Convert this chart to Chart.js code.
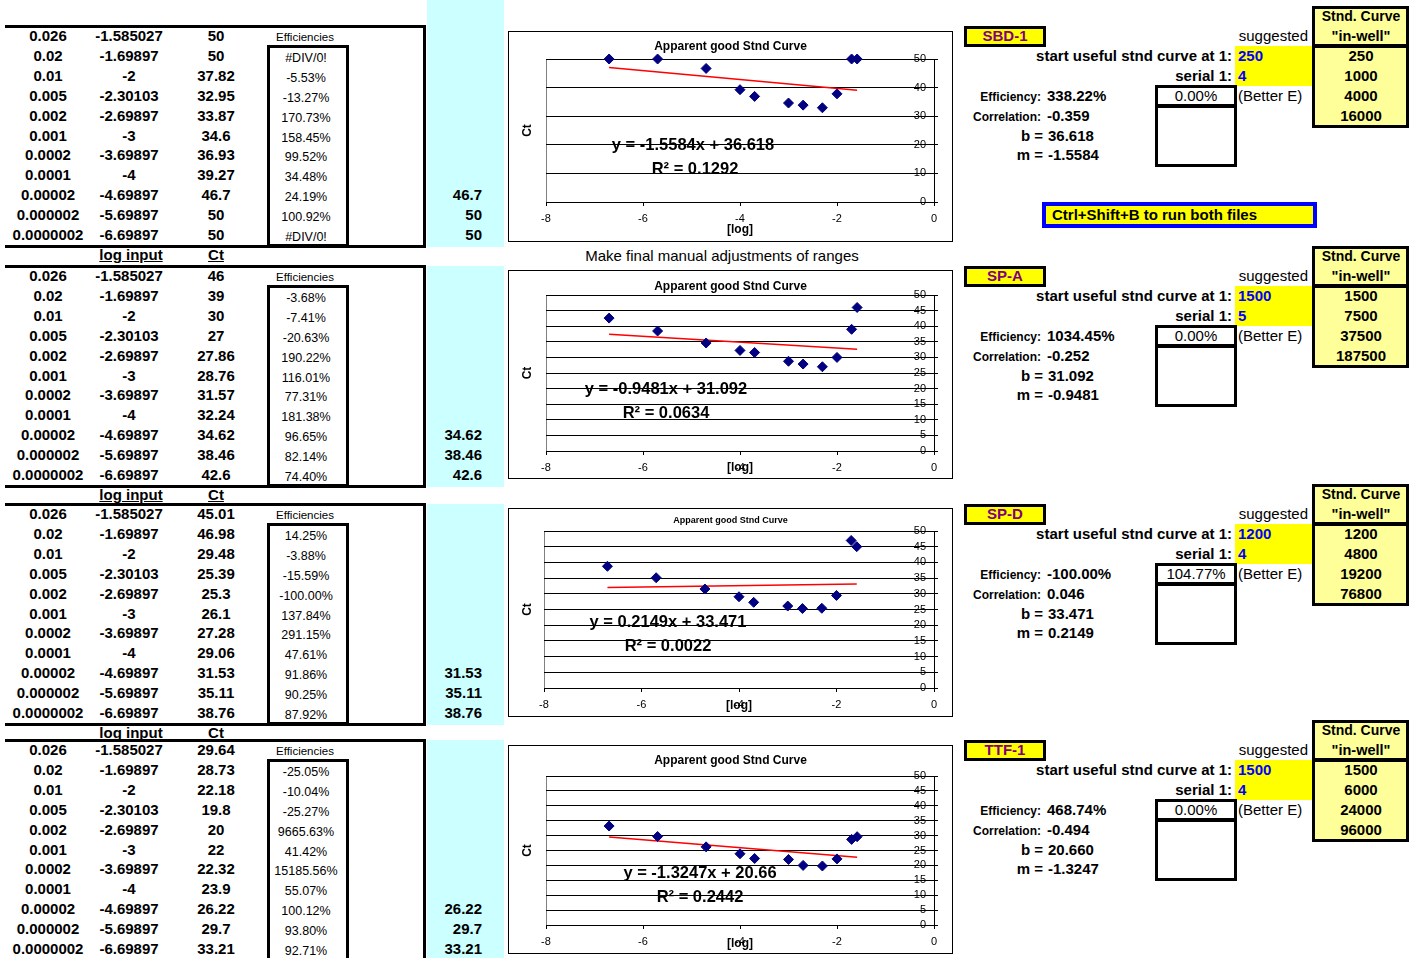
<!DOCTYPE html>
<html>
<head>
<meta charset="utf-8">
<script src="https://cdn.jsdelivr.net/npm/chart.js@4.4.1/dist/chart.umd.min.js"></script>
<style>
  body { margin: 0; background: #fff; }
  #sheet { position: relative; width: 1416px; height: 958px; overflow: hidden;
           font-family: "Liberation Sans", Arial, sans-serif; color: #000; }
  .t { position: absolute; white-space: nowrap; }
  .b { position: absolute; box-sizing: border-box; }
  .b canvas { display: block; }
</style>
</head>
<body>
<div id="sheet"></div>
<script>
// ---- data ----
const dilutions = ['0.026', '0.02', '0.01', '0.005', '0.002', '0.001', '0.0002', '0.0001', '0.00002', '0.000002', '0.0000002'];
const logInput = [-1.585027, -1.69897, -2, -2.30103, -2.69897, -3, -3.69897, -4, -4.69897, -5.69897, -6.69897];
const sampleNames = ['SBD-1', 'SP-A', 'SP-D', 'TTF-1'];

const ctSBD1 = [50, 50, 37.82, 32.95, 33.87, 34.6, 36.93, 39.27, 46.7, 50, 50];
const ctSPA  = [46, 39, 30, 27, 27.86, 28.76, 31.57, 32.24, 34.62, 38.46, 42.6];
const ctSPD  = [45.01, 46.98, 29.48, 25.39, 25.3, 26.1, 27.28, 29.06, 31.53, 35.11, 38.76];
const ctTTF1 = [29.64, 28.73, 22.18, 19.8, 20, 22, 22.32, 23.9, 26.22, 29.7, 33.21];

const effSBD1 = ['#DIV/0!', '-5.53%', '-13.27%', '170.73%', '158.45%', '99.52%', '34.48%', '24.19%', '100.92%', '#DIV/0!'];
const effSPA  = ['-3.68%', '-7.41%', '-20.63%', '190.22%', '116.01%', '77.31%', '181.38%', '96.65%', '82.14%', '74.40%'];
const effSPD  = ['14.25%', '-3.88%', '-15.59%', '-100.00%', '137.84%', '291.15%', '47.61%', '91.86%', '90.25%', '87.92%'];
const effTTF1 = ['-25.05%', '-10.04%', '-25.27%', '9665.63%', '41.42%', '15185.56%', '55.07%', '100.12%', '93.80%', '92.71%'];

const slopes = [-1.5584, -0.9481, 0.2149, -1.3247];
const intercepts = [36.618, 31.092, 33.471, 20.66];
const rSquared = ['0.1292', '0.0634', '0.0022', '0.2442'];
const efficiency = ['338.22%', '1034.45%', '-100.00%', '468.74%'];
const correlation = ['-0.359', '-0.252', '0.046', '-0.494'];
const betterE = ['0.00%', '0.00%', '104.77%', '0.00%'];
const startAt = [250, 1500, 1200, 1500];
const serial = [4, 5, 4, 4];
const curveSBD1 = [250, 1000, 4000, 16000];
const curveSPA  = [1500, 7500, 37500, 187500];
const curveSPD  = [1200, 4800, 19200, 76800];
const curveTTF1 = [1500, 6000, 24000, 96000];
const yStep = [10, 5, 5, 5];

const ctSeries = [ctSBD1, ctSPA, ctSPD, ctTTF1];
const effSeries = [effSBD1, effSPA, effSPD, effTTF1];
const curveSeries = [curveSBD1, curveSPA, curveSPD, curveTTF1];

// ---- layout ----
const blockTop = [26, 266, 504, 740];
const ROW = 19.9;
const chartLayout = [
  { top: 32,  h: 209, left: 37, titleSize: 12, titlePad: [7.5, 5.1], xh: 39, logPad: 3.8, eq: [184, 113], r2: [186, 137] },
  { top: 271, h: 207, left: 37, titleSize: 12, titlePad: [8.8, 0.8], xh: 27, logPad: 2.8, eq: [157, 118], r2: [157, 142] },
  { top: 509, h: 207, left: 35, titleSize: 9,  titlePad: [6.6, 4.6], xh: 28, logPad: 2.8, eq: [159, 113], r2: [159, 137] },
  { top: 746, h: 207, left: 37, titleSize: 12, titlePad: [7.8, 7.8], xh: 28, logPad: 2.1, eq: [191, 127], r2: [191, 151] }
];

const sheet = document.getElementById('sheet');

function box(x, y, w, h, css) {
  const d = document.createElement('div');
  d.className = 'b';
  Object.assign(d.style, { left: x + 'px', top: y + 'px', width: w + 'px', height: h + 'px' }, css || {});
  sheet.appendChild(d);
  return d;
}

function txt(s, x, y, size, o = {}) {
  const d = document.createElement('div');
  d.className = 't';
  d.textContent = s;
  const lh = Math.round(size * 1.3);
  d.style.fontSize = size + 'px';
  d.style.lineHeight = lh + 'px';
  d.style.top = (y - lh / 2) + 'px';
  d.style.fontWeight = o.bold ? 'bold' : 'normal';
  if (o.color) d.style.color = o.color;
  if (o.u) d.style.textDecoration = 'underline';
  const a = o.align || 'c';
  if (a === 'l') {
    d.style.left = x + 'px';
  } else {
    d.style.width = '400px';
    d.style.textAlign = a === 'r' ? 'right' : 'center';
    d.style.left = (a === 'r' ? x - 400 : x - 200) + 'px';
  }
  sheet.appendChild(d);
}

const B = { bold: true };

sampleNames.forEach((name, k) => {
  const T = blockTop[k];
  const rowY = i => T + 10 + ROW * i;
  const ct = ctSeries[k];

  // cyan column
  box(427, k === 0 ? 0 : T, 77, k === 0 ? T + 221 : 221, { background: '#CCFFFF' });

  // table frame
  box(5, T - 1.5, 421, 3, { background: '#000' });
  box(5, T + 218.5, 421, 3, { background: '#000' });
  box(423, T - 1.5, 3, 223, { background: '#000' });
  box(267, T + 19, 82, 202, { border: '3px solid #000' });

  for (let i = 0; i < logInput.length; i++) {
    txt(dilutions[i], 48, rowY(i), 15, B);
    txt(String(logInput[i]), 129, rowY(i), 15, B);
    txt(String(ct[i]), 216, rowY(i), 15, B);
    if (i >= 8) txt(String(ct[i]), 482, rowY(i), 15, { bold: true, align: 'r' });
    if (i >= 1) txt(effSeries[k][i - 1], 306, rowY(i) + 2, 12.5);
  }
  txt('Efficiencies', 305, rowY(0) + 1, 11.5);
  if (k < 3) {
    txt('log input', 131, rowY(11), 15, { bold: true, u: true });
    txt('Ct', 216, rowY(11), 15, { bold: true, u: true });
  }

  // right panel
  box(964, T, 82, 21, { background: '#FFFF00', border: '3px solid #000' });
  txt(name, 1005, rowY(0), 15, { bold: true, color: '#800080' });
  txt('suggested', 1308, rowY(0), 15, { align: 'r' });
  box(1235, T + 20, 78, 40, { background: '#FFFF00' });
  box(1312, T - 20, 97, 41, { background: '#FFFF99', border: '3px solid #000' });
  box(1312, T + 19, 97, 83, { background: '#FFFF99', border: '3px solid #000' });
  txt('Stnd. Curve', 1361, rowY(-1), 14, B);
  txt('"in-well"', 1361, rowY(0), 14.5, B);
  curveSeries[k].forEach((v, i) => txt(String(v), 1361, rowY(i + 1), 15, B));

  txt('start useful stnd curve at 1:', 1232, rowY(1), 15, { bold: true, align: 'r' });
  txt(String(startAt[k]), 1238, rowY(1), 15, { bold: true, align: 'l', color: '#0000FF' });
  txt('serial 1:', 1232, rowY(2), 15, { bold: true, align: 'r' });
  txt(String(serial[k]), 1238, rowY(2), 15, { bold: true, align: 'l', color: '#0000FF' });

  txt('Efficiency:', 1041, rowY(3) + 1, 12, { bold: true, align: 'r' });
  txt(efficiency[k], 1047, rowY(3), 15, { bold: true, align: 'l' });
  txt('Correlation:', 1041, rowY(4) + 1, 12, { bold: true, align: 'r' });
  txt(correlation[k], 1047, rowY(4), 15, { bold: true, align: 'l' });
  txt('b =', 1043, rowY(5), 15, { bold: true, align: 'r' });
  txt(intercepts[k].toFixed(3), 1048, rowY(5), 15, { bold: true, align: 'l' });
  txt('m =', 1043, rowY(6), 15, { bold: true, align: 'r' });
  txt(slopes[k].toFixed(4), 1048, rowY(6), 15, { bold: true, align: 'l' });

  box(1155, T + 59, 82, 22, { border: '3px solid #000' });
  box(1155, T + 79, 82, 62, { border: '3px solid #000' });
  txt(betterE[k], 1196, rowY(3), 15);
  txt('(Better E)', 1238, rowY(3), 15, { align: 'l' });
});

txt('Make final manual adjustments of ranges', 722, 256, 15);
box(1042, 202, 275, 26, { background: '#FFFF00', border: '4px solid #0000FF' });
txt('Ctrl+Shift+B to run both files', 1052, 215, 15, { bold: true, align: 'l' });

// ---- charts ----
Chart.defaults.font.family = '"Liberation Sans", Arial, sans-serif';
Chart.defaults.color = '#000';

const plotFrame = {
  id: 'plotFrame',
  beforeDraw(chart) {
    const { ctx, chartArea: a } = chart;
    ctx.save();
    ctx.strokeStyle = '#808080';
    ctx.lineWidth = 1;
    ctx.strokeRect(a.left + 0.5, a.top + 0.5, a.width, a.height);
    ctx.restore();
  }
};

const trendText = {
  id: 'trendText',
  afterDatasetsDraw(chart, args, opts) {
    const ctx = chart.ctx;
    ctx.save();
    ctx.font = 'bold 16.5px "Liberation Sans", Arial, sans-serif';
    ctx.fillStyle = '#000';
    ctx.textAlign = 'center';
    ctx.textBaseline = 'middle';
    ctx.fillText(opts.eq, opts.eqPos[0], opts.eqPos[1]);
    ctx.fillText(opts.r2, opts.r2Pos[0], opts.r2Pos[1]);
    ctx.restore();
  }
};

ctSeries.forEach((ct, k) => {
  const L = chartLayout[k];
  const wrap = box(508, L.top - 1, 445, L.h + 2, { border: '1px solid #000', background: '#fff' });
  const cv = document.createElement('canvas');
  cv.width = 443;
  cv.height = L.h;
  wrap.appendChild(cv);

  const m = slopes[k], b = intercepts[k];
  const xEnds = [logInput[logInput.length - 1], logInput[0]];

  new Chart(cv, {
    type: 'scatter',
    data: {
      datasets: [{
        data: logInput.map((x, i) => ({ x: x, y: ct[i] })),
        pointStyle: 'rectRot',
        pointRadius: 5,
        backgroundColor: '#000080',
        borderColor: '#000080',
        borderWidth: 1,
        clip: false
      }, {
        data: xEnds.map(x => ({ x: x, y: m * x + b })),
        showLine: true,
        borderColor: '#FF0000',
        borderWidth: 1.5,
        pointRadius: 0
      }]
    },
    options: {
      responsive: false,
      animation: false,
      events: [],
      layout: { padding: 0 },
      plugins: {
        legend: { display: false },
        tooltip: { enabled: false },
        title: {
          display: true,
          text: 'Apparent good Stnd Curve',
          color: '#000',
          font: { size: L.titleSize, weight: 'bold' },
          padding: { top: L.titlePad[0], bottom: L.titlePad[1] }
        },
        trendText: {
          eq: 'y = ' + m + 'x + ' + b,
          r2: 'R² = ' + rSquared[k],
          eqPos: L.eq,
          r2Pos: L.r2
        }
      },
      scales: {
        x: {
          type: 'linear',
          min: -8,
          max: 0,
          ticks: { stepSize: 2, color: '#000', font: { size: 11 }, padding: 6 },
          grid: { drawOnChartArea: false, drawTicks: true, tickLength: 4, color: '#000' },
          border: { color: '#000' },
          title: { display: true, text: '[log]', color: '#000', font: { size: 12, weight: 'bold' }, padding: { top: 0, bottom: L.logPad } },
          afterFit(s) { s.height = L.xh; }
        },
        y: {
          position: 'right',
          min: 0,
          max: 50,
          ticks: { stepSize: yStep[k], autoSkip: false, mirror: true, padding: -8, color: '#000', font: { size: 11 } },
          grid: { color: '#000', tickLength: 4 },
          border: { color: '#000' },
          afterFit(s) { s.width = 18; }
        },
        yl: {
          position: 'left',
          min: 0,
          max: 50,
          grid: { display: false },
          ticks: { display: false },
          border: { display: false },
          title: { display: true, text: 'Ct', color: '#000', font: { size: 12, weight: 'bold' }, padding: { top: 11, bottom: 0 } },
          afterFit(s) { s.width = L.left; }
        }
      }
    },
    plugins: [plotFrame, trendText]
  });
});
</script>
</body>
</html>
